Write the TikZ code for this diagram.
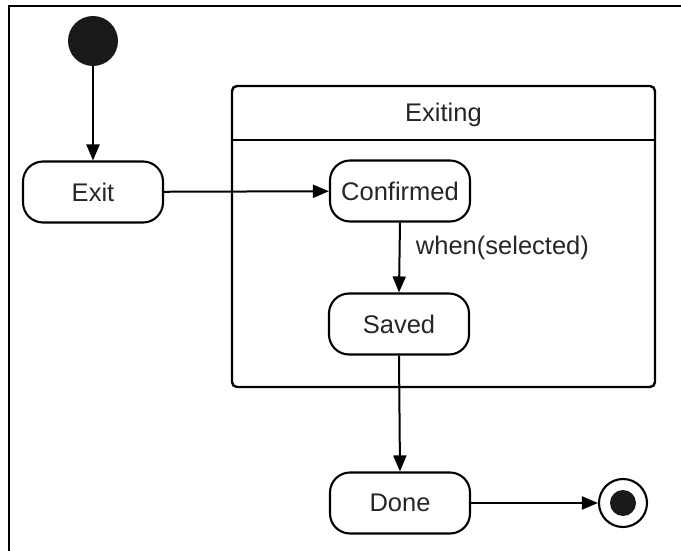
\documentclass[tikz,border=0pt]{standalone}
\usepackage{fontspec}
\setmainfont{Liberation Sans}
\usetikzlibrary{arrows.meta}
\begin{document}
\begin{tikzpicture}[x=1pt,y=-1pt,
  every node/.style={font=\fontsize{25.5}{30}\selectfont, text=black!85},
  state/.style={draw, line width=2.1pt, rounded corners=20pt, minimum width=140pt, minimum height=61pt, inner sep=0pt},
  conn/.style={line width=2pt, -{Triangle[length=16pt,width=13pt]}},
]
\useasboundingbox (0,0) rectangle (681,551);
\draw[line width=2.4pt] (9,551) -- (9,6) -- (681,6);
% initial
\node[circle, fill=black!90, minimum size=50pt, inner sep=0pt] (init) at (93,41) {};
\node[state] (exit) at (93,192) {Exit};
% composite
\draw[line width=2.4pt, rounded corners=5pt] (232,86) rectangle (655,387);
\coordinate (hl) at (232,140);
\coordinate (hr) at (655,140);
\draw[line width=2.1pt] (hl) -- (hr);
\node (exiting) at (443.5,115) {Exiting};
\node[state] (conf) at (400,191) {Confirmed};
\node[state] (saved) at (399,324) {Saved};
\node[state] (done) at (400,503) {Done};
% final
\node[circle, draw, line width=2.1pt, minimum size=48pt, inner sep=0pt] (fin) at (623,503) {};
\node[circle, fill=black!90, minimum size=26pt, inner sep=0pt] (finin) at (623,503) {};
% connectors
\draw[conn] (init) -- (exit);
\draw[conn] (exit) -- (conf);
\draw[conn] (conf.south) -- node[pos=0.36, right, xshift=12pt] {when(selected)} (saved.north);
\draw[conn] (saved.south) -- (done.north);
\draw[conn] (done) -- (fin);
\end{tikzpicture}
\end{document}
